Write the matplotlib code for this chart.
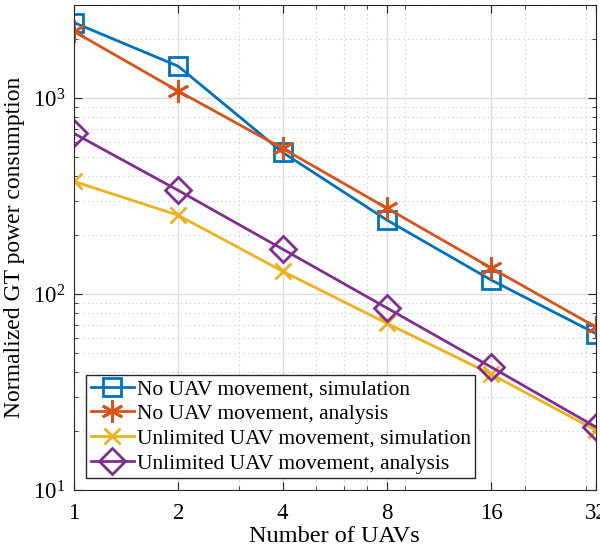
import matplotlib.pyplot as plt
from matplotlib.ticker import NullFormatter, LogLocator

# Dados
uavs = [1, 2, 4, 8, 16, 32]
no_mov_sim = [2440, 1460, 530, 239, 118, 63]
no_mov_ana = [2200, 1090, 555, 275, 136, 68]
unl_mov_sim = [377, 253, 131, 71, 39, 20.2]
unl_mov_ana = [663, 339, 170, 85, 42.4, 21]

plt.rcParams["font.family"] = ["Liberation Serif", "DejaVu Serif"]
plt.rcParams["mathtext.fontset"] = "custom"
plt.rcParams["mathtext.rm"] = "Liberation Serif"

fig = plt.figure(figsize=(6, 5.5), dpi=100)
ax = fig.add_axes([0.123, 0.109, 0.870, 0.882])

ax.plot(uavs, no_mov_sim, color="#0072BD", lw=2, marker="s", ms=13,
        mfc="none", mew=2, label="No UAV movement, simulation")
ax.plot(uavs, no_mov_ana, color="#D95319", lw=2, marker=(6, 2, 0), ms=16,
        mew=2, label="No UAV movement, analysis")
ax.plot(uavs, unl_mov_sim, color="#EDB120", lw=2, marker="x", ms=12,
        mew=2, label="Unlimited UAV movement, simulation")
ax.plot(uavs, unl_mov_ana, color="#7E2F8E", lw=2, marker="D", ms=13,
        mfc="none", mew=2, label="Unlimited UAV movement, analysis")

ax.set_xscale("log")
ax.set_yscale("log")
ax.set_xlim(1, 32)
ax.set_ylim(10, 3000)
ax.set_xticks(uavs)
ax.set_xticklabels([str(u) for u in uavs])
ax.xaxis.set_minor_locator(LogLocator(base=10, subs=range(2, 10)))
ax.xaxis.set_minor_formatter(NullFormatter())
ax.yaxis.set_minor_formatter(NullFormatter())

ax.grid(True, which="major", color="#dcdcdc", lw=1)
ax.grid(True, which="minor", color="#c8c8c8", lw=0.8, ls=(0, (1, 3)))
ax.tick_params(which="both", direction="in", top=True, right=True,
               labelsize=16.5, color="#262626")
ax.tick_params(axis="x", which="major", pad=9)
ax.tick_params(axis="y", which="major", pad=6)
ax.tick_params(which="major", length=6)
ax.tick_params(which="minor", length=3)
for s in ax.spines.values():
    s.set_color("#262626")

ax.set_xlabel("Number of UAVs", fontsize=17.5, labelpad=2)
ax.set_ylabel("Normalized GT power consumption", fontsize=17, labelpad=6)

leg = ax.legend(loc="lower left", bbox_to_anchor=(0.024, 0.025), fontsize=15.5,
                fancybox=False, edgecolor="#262626", framealpha=1,
                handlelength=2.0, handletextpad=0.15, borderpad=0.2,
                labelspacing=0.22, borderaxespad=0)
leg.get_frame().set_linewidth(1)

fig.savefig("out.png", dpi=100)
